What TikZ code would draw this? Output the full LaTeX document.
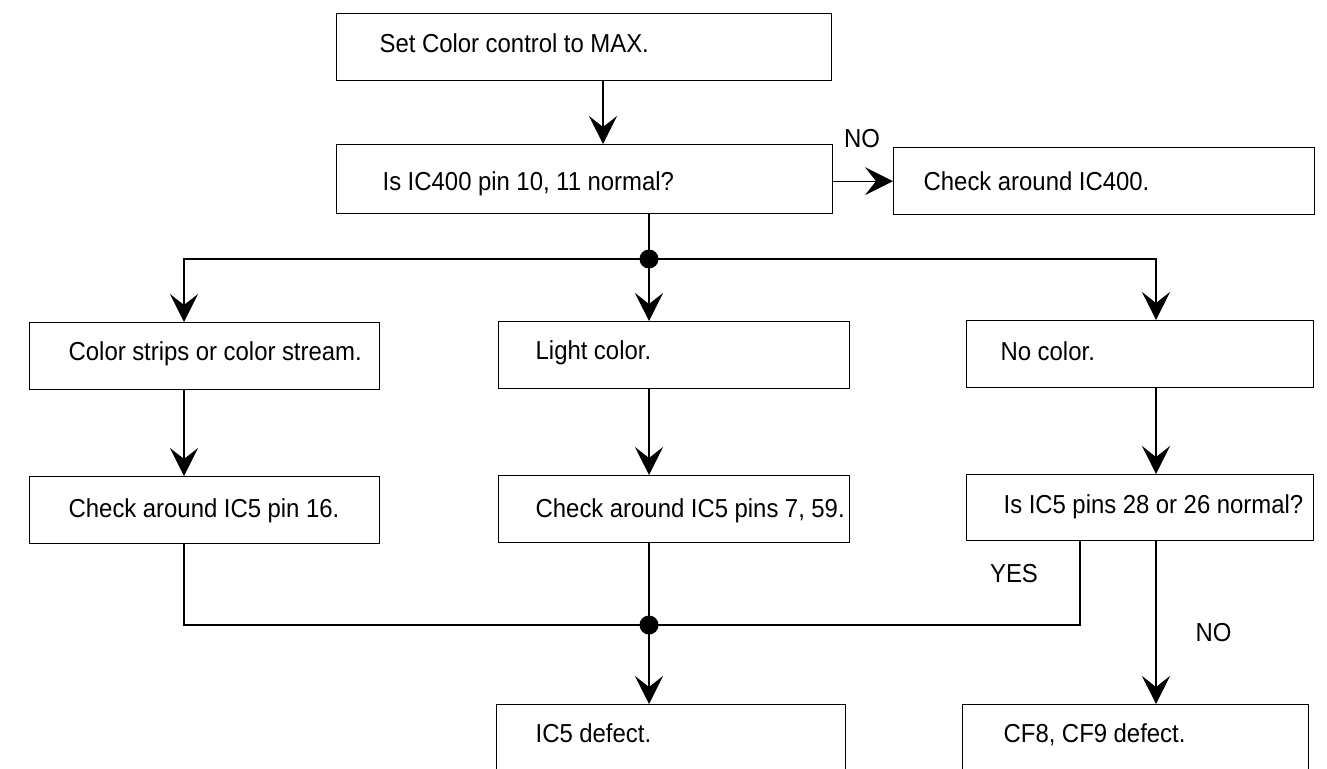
\documentclass[tikz,border=0pt]{standalone}
\usepackage{fontspec}
\setmainfont[FakeStretch=0.92]{Liberation Sans}
\usetikzlibrary{arrows.meta}
\newcommand{\chartfont}{\fontsize{26}{30}\selectfont}
% one unbroken line of box text with a tighter word space
\newcommand{\tx}[1]{\mbox{\spaceskip=6.5pt\relax #1}}
\begin{document}
\begin{tikzpicture}[x=1pt, y=-1pt,
  line width=1.3pt,
  box/.style={draw, rectangle, anchor=north west, inner ysep=0pt,
    align=left, font=\chartfont},
  lbl/.style={font=\chartfont, inner sep=0pt},
  dot/.style={circle, fill=black, draw=none, minimum size=19pt, inner sep=0pt},
  arr/.style={-{Stealth[length=28pt, width=28pt, inset=11pt]}}
]
\useasboundingbox (0,0) rectangle (1327,768);
\fill[white] (0,0) rectangle (1327,768);
\clip (0,0) rectangle (1327,768);

% first two steps and the side branch
\node[box, minimum width=495pt, minimum height=67pt, inner xsep=43pt,
  text width=409pt, text height=18pt, text depth=7pt]
  (b1) at (336,13) {\tx{Set Color control to MAX.}};
\node[box, minimum width=496pt, minimum height=69pt, inner xsep=46pt,
  text width=404pt, text height=24pt, text depth=1pt]
  (b2) at (336,144) {\tx{Is IC400 pin 10, 11 normal?}};
\node[box, minimum width=421pt, minimum height=67pt, inner xsep=30pt,
  text width=361pt, text height=22pt, text depth=3pt]
  (b3) at (893,147) {\tx{Check around IC400.}};

% symptoms
\node[box, minimum width=350pt, minimum height=67pt, inner xsep=39pt,
  text width=272pt, text height=17pt, text depth=8pt]
  (r3a) at (29,322) {\tx{Color strips or color stream.}};
\node[box, minimum width=351pt, minimum height=67pt, inner xsep=37pt,
  text width=277pt, text height=17pt, text depth=8pt]
  (r3m) at (498,321) {\tx{Light color.}};
\node[box, minimum width=347pt, minimum height=67pt, inner xsep=34pt,
  text width=279pt, text height=19pt, text depth=6pt]
  (r3c) at (966,320) {\tx{No color.}};

% checks
\node[box, minimum width=350pt, minimum height=67pt, inner xsep=39pt,
  text width=272pt, text height=20pt, text depth=5pt]
  (r4a) at (29,476) {\tx{Check around IC5 pin 16.}};
\node[box, minimum width=351pt, minimum height=67pt, inner xsep=37pt,
  text width=277pt, text height=21pt, text depth=4pt]
  (r4m) at (498,475) {\tx{Check around IC5 pins 7, 59.}};
\node[box, minimum width=347pt, minimum height=66pt, inner xsep=37pt,
  text width=273pt, text height=18.5pt, text depth=6.5pt]
  (r4c) at (966,474) {\tx{Is IC5 pins 28 or 26 normal?}};

% results
\node[box, minimum width=349pt, minimum height=67pt, inner xsep=39pt,
  text width=271pt, text height=17pt, text depth=8pt]
  (r5m) at (496,704) {\tx{IC5 defect.}};
\node[box, minimum width=346pt, minimum height=67pt, inner xsep=41pt,
  text width=264pt, text height=17pt, text depth=8pt]
  (r5c) at (962,704) {\tx{CF8, CF9 defect.}};

% junctions
\node[dot] (j1) at (649,259) {};
\node[dot] (j2) at (649,625) {};

% labels
\node[lbl] (no1) at (862,138.5) {NO};
\node[lbl] (yes) at (1014,574) {YES};
\node[lbl] (no2) at (1213.5,632.5) {NO};

% connectors
\draw[arr] ([xshift=267pt]b1.south west) -- ([xshift=267pt]b2.north west);
\draw[arr] (b2.east |- b3.west) -- (b3.west);
\draw (j1 |- b2.south) -- (j1.center);
\draw[arr] (j1.center) -| ([xshift=155pt]r3a.north west);
\draw[arr] (j1.center) -| ([xshift=190pt]r3c.north west);
\draw[arr] (j1.center) -- (j1 |- r3m.north);

\draw[arr] ([xshift=155pt]r3a.south west) -- ([xshift=155pt]r4a.north west);
\draw[arr] (j1 |- r3m.south) -- (j1 |- r4m.north);
\draw[arr] ([xshift=190pt]r3c.south west) -- ([xshift=190pt]r4c.north west);

\draw ([xshift=155pt]r4a.south west) |- (j2.center);
\draw (j2 |- r4m.south) -- (j2.center);
\draw ([xshift=114pt]r4c.south west) |- (j2.center);
\draw[arr] (j2.center) -- (j2 |- r5m.north);
\draw[arr] ([xshift=190pt]r4c.south west) -- ([xshift=194pt]r5c.north west);
\end{tikzpicture}
\end{document}
